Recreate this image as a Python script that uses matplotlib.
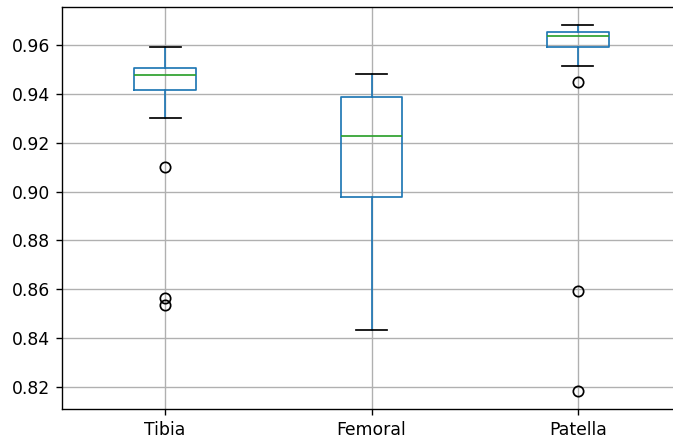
import matplotlib
matplotlib.use("Agg")
import matplotlib.pyplot as plt

# values
labels = ["Tibia", "Femoral", "Patella"]
whislo = [0.9301, 0.8433, 0.9514]
q1 = [0.9416, 0.8978, 0.9592]
med = [0.9477, 0.9228, 0.9637]
q3 = [0.9506, 0.9387, 0.9653]
whishi = [0.9592, 0.9481, 0.9682]
fliers = [[0.9100, 0.8564, 0.8536], [], [0.9449, 0.8593, 0.8184]]

stats = []
for i in range(len(labels)):
    stats.append(dict(label=labels[i], whislo=whislo[i], q1=q1[i], med=med[i],
                      q3=q3[i], whishi=whishi[i], fliers=fliers[i]))

# reference looks like an upscaled notebook image: render at a higher dpi
dpi = 124
fig = plt.figure(figsize=(673 / dpi, 443 / dpi), dpi=dpi)
# the right spine sits just outside the picture in the reference
ax = fig.add_axes([62 / 673, 34 / 443, 619 / 673, 402 / 443])

ax.bxp(stats,
       boxprops=dict(color="#1f77b4"),
       whiskerprops=dict(color="#1f77b4"),
       medianprops=dict(color="#2ca02c"),
       capprops=dict(color="black"),
       flierprops=dict(marker="o", markerfacecolor="none", markeredgecolor="black"))

ax.grid(True)
ax.set_yticks([0.82, 0.84, 0.86, 0.88, 0.90, 0.92, 0.94, 0.96])
ax.yaxis.set_major_formatter(matplotlib.ticker.FormatStrFormatter("%.2f"))

fig.savefig("out.png", dpi=dpi)
